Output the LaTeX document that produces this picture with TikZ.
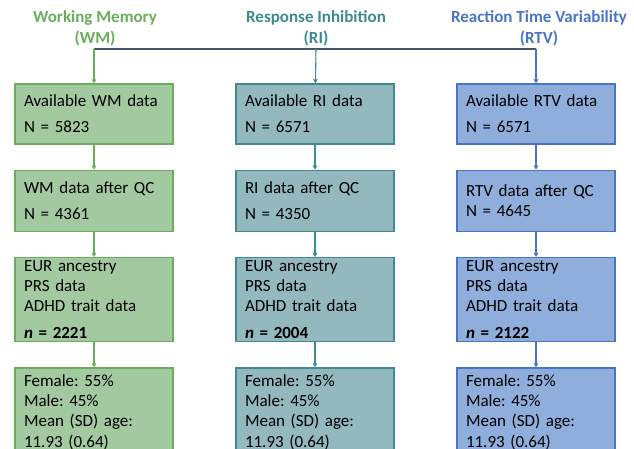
\documentclass[tikz,border=0pt]{standalone}
\usepackage{fontspec}
\setmainfont{Carlito}
\usetikzlibrary{arrows.meta, positioning}
\frenchspacing

\definecolor{wmline}{HTML}{6AAE5C}
\definecolor{wmfill}{HTML}{A3C9A0}
\definecolor{riline}{HTML}{3E8992}
\definecolor{rifill}{HTML}{93B8BE}
\definecolor{rtvline}{HTML}{4876C4}
\definecolor{rtvfill}{HTML}{8FAEDB}
\definecolor{trunkgray}{HTML}{44546A}

\begin{document}
\begin{tikzpicture}[x=1pt, y=-1pt,
  box/.style={draw=#1line, fill=#1fill, line width=1.3pt, minimum width=158pt,
    text width=140pt, inner xsep=9pt, inner ysep=2pt, align=left,
    font=\fontsize{17}{20.4}\selectfont},
  head/.style={text=#1line, align=center, font=\bfseries\fontsize{17}{20.4}\selectfont},
  feed/.style={draw=#1line, line width=1.1pt, -{Triangle[length=4pt, width=4.5pt]}},
  trunk/.style={draw=trunkgray, line width=1.1pt}]
  \path[use as bounding box] (0,0) rectangle (634,448);
  \clip (0,0) rectangle (634,448);

  % headings
  \node[head=wm] (wmhead) at (95,28.5) {Working Memory\\(WM)};
  \node[head=ri] (rihead) at (316,28.5) {Response Inhibition\\(RI)};
  \node[head=rtv] (rtvhead) at (539,28.5) {Reaction Time Variability\\(RTV)};
  \coordinate (split) at (316,49);

  % working memory
  \node[box=wm, minimum height=60pt] (wm1) at (94,114) {Available WM data\\[5.6pt]N = 5823};
  \node[box=wm, minimum height=61pt, below=25pt of wm1] (wm2) {WM data after QC\\[5.6pt]N = 4361};
  \node[box=wm, minimum height=84pt, below=25pt of wm2] (wm3) {EUR ancestry\\PRS data\\ADHD trait data\\[6.6pt]\textbf{\textit{n} = 2221}};
  \node[box=wm, minimum height=88pt, below=25pt of wm3] (wm4) {Female: 55\%\\Male: 45\%\\Mean (SD) age:\\11.93 (0.64)};

  % response inhibition
  \node[box=ri, minimum height=60pt] (ri1) at (315,114) {Available RI data\\[5.6pt]N = 6571};
  \node[box=ri, minimum height=61pt, below=25pt of ri1] (ri2) {RI data after QC\\[5.6pt]N = 4350};
  \node[box=ri, minimum height=84pt, below=25pt of ri2] (ri3) {EUR ancestry\\PRS data\\ADHD trait data\\[6.6pt]\textbf{\textit{n} = 2004}};
  \node[box=ri, minimum height=88pt, below=25pt of ri3] (ri4) {Female: 55\%\\Male: 45\%\\Mean (SD) age:\\11.93 (0.64)};

  % reaction time variability
  \node[box=rtv, minimum height=60pt] (rtv1) at (536,114) {Available RTV data\\[5.6pt]N = 6571};
  \node[box=rtv, minimum height=61pt, below=25pt of rtv1] (rtv2) {RTV data after QC\\N = 4645};
  \node[box=rtv, minimum height=84pt, below=25pt of rtv2] (rtv3) {EUR ancestry\\PRS data\\ADHD trait data\\[6.6pt]\textbf{\textit{n} = 2122}};
  \node[box=rtv, minimum height=88pt, below=25pt of rtv3] (rtv4) {Female: 55\%\\Male: 45\%\\Mean (SD) age:\\11.93 (0.64)};

  % connectors
  \draw[trunk] (wm1.north |- split) -- (rtv1.north |- split);
  \draw[feed=wm] (wm1.north |- split) -- (wm1);
  \draw[feed=ri] (split) -- (ri1);
  \draw[feed=rtv] (rtv1.north |- split) -- (rtv1);
  \draw[feed=wm] (wm1) -- (wm2);
  \draw[feed=wm] (wm2) -- (wm3);
  \draw[feed=wm] (wm3) -- (wm4);
  \draw[feed=ri] (ri1) -- (ri2);
  \draw[feed=ri] (ri2) -- (ri3);
  \draw[feed=ri] (ri3) -- (ri4);
  \draw[feed=rtv] (rtv1) -- (rtv2);
  \draw[feed=rtv] (rtv2) -- (rtv3);
  \draw[feed=rtv] (rtv3) -- (rtv4);
\end{tikzpicture}
\end{document}
